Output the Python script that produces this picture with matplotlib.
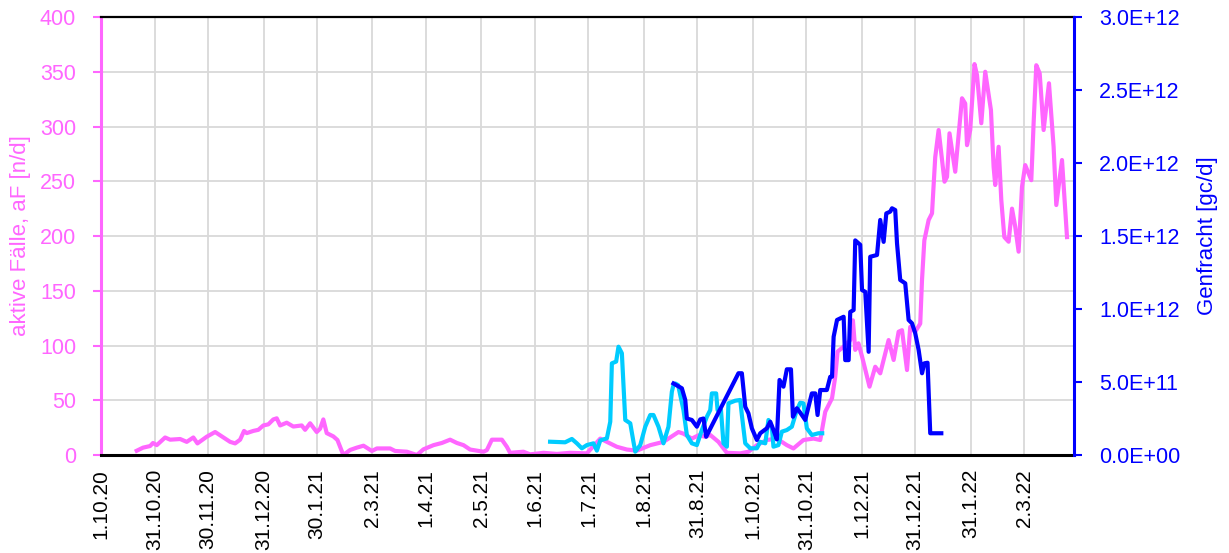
import matplotlib
matplotlib.use("Agg")
import matplotlib.pyplot as plt
from matplotlib.ticker import FuncFormatter
import pandas as pd

plt.rcParams['font.family'] = ['Liberation Sans', 'DejaVu Sans']

START = pd.Timestamp("2020-10-01")

# aktive Faelle (days since 1.10.20, value n/d)
pink_day = [20.0, 23.5, 27.5, 29.1, 31.2, 35.9, 38.7, 44.3, 48.0, 51.7, 54.0, 59.2,
            63.9, 66.7, 72.3, 75.1, 77.9, 80.1, 81.6, 85.3, 88.1, 90.9, 93.7, 96.5,
            98.4, 100.3, 104.0, 107.7, 112.4, 114.3, 117.1, 120.8, 122.7, 124.5, 126.4,
            130.1, 132.4, 135.7, 139.5, 143.2, 147.0, 151.7, 154.5, 161.9, 164.7, 171.3,
            176.9, 180.6, 186.2, 190.9, 195.5, 199.3, 203.0, 206.7, 214.2, 216.1, 218.9,
            224.5, 227.3, 229.1, 236.6, 240.3, 247.8, 255.3, 262.7, 272.1, 279.6, 283.3,
            288.9, 294.5, 300.1, 307.6, 315.0, 320.6, 323.4, 326.2, 330.9, 334.6, 338.4,
            341.2, 345.8, 350.5, 358.0, 362.6, 367.3, 372.9, 378.5, 384.1, 387.8, 393.4,
            399.0, 402.8, 405.6, 409.4, 411.2, 412.5, 415.9, 419.6, 421.1, 422.4, 424.2,
            426.2, 430.4, 433.6, 436.4, 441.1, 443.9, 446.7, 448.6, 451.4, 453.2, 456.0,
            458.8, 459.8, 461.1, 463.5, 465.4, 467.2, 469.1, 472.4, 473.8, 475.2, 476.6,
            478.4, 482.2, 484.0, 485.0, 486.8, 489.2, 490.6, 493.0, 495.2, 498.4, 499.9,
            500.8, 502.7, 504.2, 505.9, 508.3, 510.2, 512.0, 513.9, 515.8, 517.6, 521.0,
            522.3, 523.8, 525.7, 527.9, 530.9, 533.5, 535.0, 538.2, 541.0]
pink_val = [3.9, 6.7, 8.2, 11, 9, 16, 14, 14.6, 12, 16, 10.6, 16.7,
            21, 18, 12, 10.6, 14, 22, 20, 22, 23, 27, 28, 32.5,
            33.5, 27, 29.5, 26, 27, 23, 29, 21, 24, 32.5, 20,
            17, 13.7, 0, 4.6, 6.7, 8.5, 3.7, 6, 6, 3.7, 3,
            0, 5.2, 9, 11, 14, 11, 9, 5, 3, 4.5, 14,
            14, 7.5, 2, 3, 0.6, 2, 1, 2, 1.5, 15, 12,
            7.5, 5, 4, 9, 12, 18, 21, 19.5, 15, 18, 16.7,
            18.3, 12, 2, 1.5, 3, 9, 13.7, 15, 9, 6, 13.7,
            15, 13.7, 39.5, 51.8, 71.5, 94.4, 99, 105, 123, 96, 102,
            90, 62.4, 80.6, 74.6, 105, 86.8, 112.6, 114, 77.6, 117, 112.6,
            120, 160, 196, 214.6, 220.7, 272, 296.8, 249.6, 254, 293.8, 278.5,
            258.7, 325.8, 321, 283, 296.8, 357, 347, 303, 350, 315, 263,
            246.6, 281.5, 232.9, 199, 194.8, 225, 208.5, 185.7, 245, 264.8, 251,
            303, 356, 348.6, 296.8, 339.5, 281.5, 228.3, 269.4, 199]

# Genfracht, first series (E+12 gc/d)
cyan_day = [251.5, 259.9, 263.7, 266.5, 269.3, 272.1, 275.8, 277.7, 279.6, 283.3, 285.2,
            286.1, 288.5, 289.8, 291.7, 293.6, 296.4, 298.2, 299.2, 302.0, 304.8, 307.6,
            309.4, 312.2, 315.0, 317.8, 319.7, 320.6, 321.6, 323.2, 324.4, 326.2, 328.1,
            330.9, 333.7, 336.5, 339.3, 341.2, 342.1, 344.5, 345.3, 347.2, 348.6, 350.5,
            351.4, 355.2, 358.0, 358.9, 360.8, 363.6, 367.3, 369.2, 372.0, 373.8, 375.7,
            376.6, 379.4, 381.3, 384.1, 386.9, 389.7, 391.6, 393.4, 395.3, 398.1, 401.8,
            403.9]
cyan_e12 = [0.091, 0.087, 0.11, 0.08, 0.046, 0.068, 0.08, 0.03, 0.10, 0.114, 0.228,
            0.628, 0.64, 0.742, 0.697, 0.24, 0.217, 0.09, 0.023, 0.068, 0.194, 0.274,
            0.274, 0.194, 0.08, 0.194, 0.434, 0.479, 0.49, 0.479, 0.41, 0.308, 0.137,
            0.08, 0.068, 0.171, 0.262, 0.308, 0.422, 0.422, 0.308, 0.308, 0.08, 0.057,
            0.354, 0.372, 0.377, 0.274, 0.08, 0.046, 0.046, 0.09, 0.08, 0.24, 0.194,
            0.057, 0.068, 0.16, 0.171, 0.194, 0.308, 0.358, 0.354, 0.183, 0.137, 0.149,
            0.149]

# Genfracht, second series (E+12 gc/d)
blue_day = [320.6, 325.3, 327.2, 328.1, 330.9, 333.7, 335.6, 337.4, 338.9, 357.0, 358.9,
            360.8, 362.6, 364.5, 367.3, 369.2, 372.9, 374.8, 376.6, 378.5, 380.0, 382.2,
            384.1, 386.4, 387.5, 389.7, 391.6, 394.4, 398.1, 400.0, 401.3, 402.8, 406.5,
            408.4, 409.4, 410.3, 412.2, 415.9, 416.8, 418.7, 419.6, 421.5, 422.4, 425.2,
            426.2, 428.0, 429.9, 430.8, 434.6, 436.4, 438.3, 439.8, 442.0, 443.0, 444.8,
            445.8, 447.6, 450.4, 452.3, 454.2, 456.0, 457.9, 459.8, 461.1, 462.9, 464.4,
            470.6]
blue_e12 = [0.49, 0.457, 0.377, 0.25, 0.24, 0.194, 0.244, 0.25, 0.125, 0.56, 0.56,
            0.33, 0.285, 0.183, 0.103, 0.149, 0.183, 0.228, 0.171, 0.107, 0.514, 0.468,
            0.587, 0.587, 0.262, 0.32, 0.29, 0.24, 0.422, 0.422, 0.274, 0.445, 0.445,
            0.536, 0.536, 0.81, 0.925, 0.947, 0.65, 0.65, 0.98, 0.993, 1.47, 1.44,
            1.13, 1.118, 0.707, 1.358, 1.37, 1.61, 1.46, 1.655, 1.667, 1.69, 1.678,
            1.45, 1.199, 1.176, 0.925, 0.902, 0.834, 0.72, 0.56, 0.628, 0.632, 0.149,
            0.149]

tick_dates = ["2020-10-01", "2020-10-31", "2020-11-30", "2020-12-31", "2021-01-30",
              "2021-03-02", "2021-04-01", "2021-05-02", "2021-06-01", "2021-07-01",
              "2021-08-01", "2021-08-31", "2021-10-01", "2021-10-31", "2021-12-01",
              "2021-12-31", "2022-01-31", "2022-03-02"]

PINK = "#FF66FF"
CYAN = "#00CCFF"
BLUE = "#0000FF"


def to_dates(days):
    return START + pd.to_timedelta(days, unit="D")


fig = plt.figure(figsize=(12.29, 5.53), dpi=100)
ax = fig.add_axes([0.0822, 0.1772, 0.7918, 0.7920])
ax2 = ax.twinx()

ax.plot(to_dates(pink_day), pink_val, color=PINK, lw=3.0, solid_joinstyle="round")
ax2.plot(to_dates(cyan_day), [v * 1e12 for v in cyan_e12], color=CYAN, lw=3.0,
         solid_joinstyle="round")
ax2.plot(to_dates(blue_day), [v * 1e12 for v in blue_e12], color=BLUE, lw=3.0,
         solid_joinstyle="round")

ax.set_xlim(START, START + pd.Timedelta(days=545))
ax.set_ylim(0, 400)
ax.set_yticks(range(0, 401, 50))
ax2.set_ylim(0, 3.0e12)
ax2.set_yticks([i * 0.5e12 for i in range(7)])
ax2.yaxis.set_major_formatter(FuncFormatter(lambda v, p: f"{v:.1E}"))

ticks = pd.to_datetime(tick_dates)
ax.set_xticks(ticks)
ax.set_xticklabels([f"{d.day}.{d.month}.{d.year % 100}" for d in ticks],
                   rotation=90, fontsize=15)
ax.tick_params(axis="x", length=0, pad=10)

ax.grid(True, color="#D9D9D9", lw=1.3)
ax.set_axisbelow(True)

ax.tick_params(axis="y", colors=PINK, labelsize=15.5, length=6, width=1.5, pad=12)
ax2.tick_params(axis="y", colors=BLUE, labelsize=15.5, length=6, width=1.5, pad=12)
ax.set_ylabel("aktive Fälle, aF [n/d]", color=PINK, fontsize=16, labelpad=6)
ax2.set_ylabel("Genfracht [gc/d]", color=BLUE, fontsize=16, labelpad=12)

ax.spines["left"].set_color(PINK)
ax.spines["left"].set_linewidth(2.2)
ax.spines["right"].set_visible(False)
ax.spines["top"].set_linewidth(1.6)
ax.spines["bottom"].set_linewidth(2.2)
for s in ["left", "top", "bottom"]:
    ax2.spines[s].set_visible(False)
ax2.spines["right"].set_color(BLUE)
ax2.spines["right"].set_linewidth(2.2)

fig.savefig("out.png", dpi=100)
